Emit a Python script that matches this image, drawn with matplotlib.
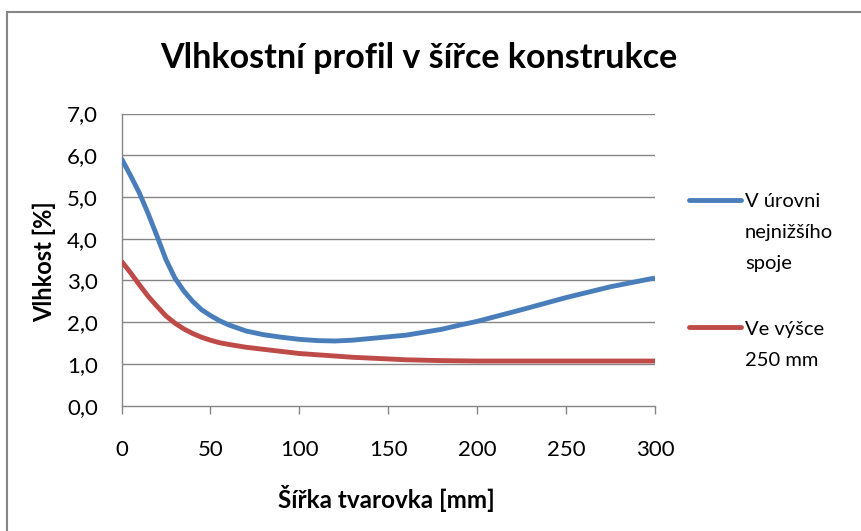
import matplotlib
matplotlib.use("Agg")
import matplotlib.pyplot as plt
from matplotlib.lines import Line2D
from matplotlib.patches import Rectangle
from matplotlib.ticker import FuncFormatter

# Data
width_mm = [0, 5, 10, 15, 20, 25, 30, 35, 40, 45, 50, 55, 60, 70, 80, 90, 100, 110, 120, 130,
            140, 150, 160, 170, 180, 190, 200, 225, 250, 275, 300]
moisture_lowest_joint = [5.92, 5.52, 5.1, 4.6, 4.06, 3.5, 3.06, 2.75, 2.5, 2.3, 2.16, 2.04, 1.94,
                         1.79, 1.7, 1.64, 1.59, 1.56, 1.55, 1.57, 1.61, 1.65, 1.69, 1.76, 1.83,
                         1.93, 2.02, 2.3, 2.59, 2.85, 3.06]
moisture_250mm = [3.46, 3.19, 2.9, 2.62, 2.38, 2.15, 1.98, 1.84, 1.73, 1.64, 1.57, 1.51, 1.47,
                  1.4, 1.35, 1.3, 1.25, 1.22, 1.19, 1.16, 1.14, 1.12, 1.1, 1.09, 1.08,
                  1.075, 1.07, 1.07, 1.07, 1.07, 1.07]
series_names = [["V úrovni", "nejnižšího", "spoje"], ["Ve výšce", "250 mm"]]
series_colors = ["#4A7EBB", "#BE4B48"]
x_ticks = [0, 50, 100, 150, 200, 250, 300]
y_ticks = [0, 1, 2, 3, 4, 5, 6, 7]
title = "Vlhkostní profil v šířce konstrukce"
x_label = "Šířka tvarovka [mm]"
y_label = "Vlhkost [%]"

plt.rcParams['font.family'] = ['Lato', 'DejaVu Sans']

W, H = 861, 531
fig = plt.figure(figsize=(W / 100, H / 100), dpi=100)
fig.patch.set_facecolor("white")

def fx(px):
    return px / W

def fy(py):
    return 1 - py / H

# Chart area border
fig.add_artist(Rectangle((fx(7), fy(600)), fx(900), fy(12.5) - fy(600),
                         transform=fig.transFigure, fill=False,
                         edgecolor="#868686", linewidth=1.5))

ax = fig.add_axes([fx(121.5), fy(405.7), fx(655) - fx(121.5), fy(113.5) - fy(405.7)])
grid_c = "#868686"
for v in y_ticks[1:]:
    ax.axhline(v, color=grid_c, linewidth=1.0, zorder=1)

ax.plot(width_mm, moisture_lowest_joint, color=series_colors[0], linewidth=3.5,
        solid_capstyle="butt", solid_joinstyle="round", zorder=3)
ax.plot(width_mm, moisture_250mm, color=series_colors[1], linewidth=3.5,
        solid_capstyle="butt", solid_joinstyle="round", zorder=3)

ax.set_xlim(0, 300)
ax.set_ylim(0, 7)
ax.set_xticks(x_ticks)
ax.set_yticks(y_ticks)
ax.yaxis.set_major_formatter(FuncFormatter(lambda v, p: f"{v:.1f}".replace(".", ",")))
for s in ["top", "right"]:
    ax.spines[s].set_visible(False)
for s in ["left", "bottom"]:
    ax.spines[s].set_color(grid_c)
    ax.spines[s].set_linewidth(1.0)
ax.tick_params(axis="x", direction="out", length=6, color=grid_c, width=1.0,
               labelsize=16, pad=19)
ax.tick_params(axis="y", length=0, labelsize=16, pad=17)

fig.text(fx(419), fy(68), title, fontsize=24.5, fontweight="bold", ha="center", va="baseline")
fig.text(fx(386), fy(508), x_label, fontsize=17.5, fontweight="bold", ha="center", va="baseline")
fig.text(fx(44), fy(262), y_label, fontsize=17, fontweight="bold", ha="center", va="center",
         rotation=90)

# Legend
leg_line_y = [200, 327]
leg_base_y = [[207, 238, 269], [335, 366]]
for i, (names, c) in enumerate(zip(series_names, series_colors)):
    y0 = leg_line_y[i]
    fig.add_artist(Line2D([fx(689), fx(741)], [fy(y0), fy(y0)], color=c, linewidth=3.5,
                          solid_capstyle="round", transform=fig.transFigure))
    for j, name in enumerate(names):
        fig.text(fx(745), fy(leg_base_y[i][j]), name, fontsize=14.5, ha="left", va="baseline")

fig.savefig("out.png", dpi=100)
